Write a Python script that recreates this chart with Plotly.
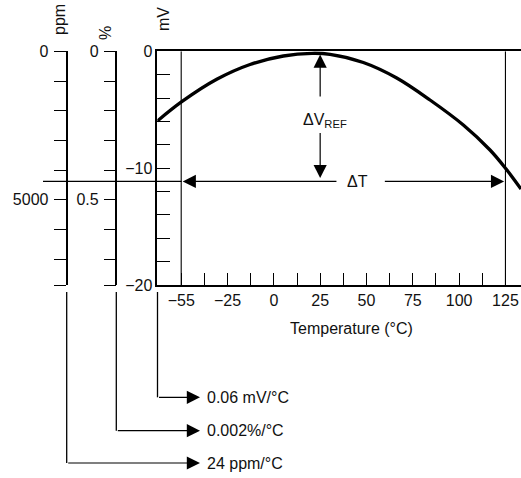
import plotly.graph_objects as go

W, H = 521, 478

# ---- data ----
temp_c = [-62.87, -49.70, -30.82, -12.85, 5.13, 20.61, 30.33, 48.30, 66.32, 84.29, 102.27, 116.68, 125.15, 133.41]
vref_mv = [-5.965, -4.313, -2.396, -1.130, -0.402, -0.171, -0.257, -0.958, -2.285, -4.168, -6.307, -8.447, -10.03, -11.784]

x_tick_vals = [-50, -37.5, -25, -12.5, 0, 12.5, 25, 37.5, 50, 62.5, 75, 87.5, 100, 112.5, 125]
x_tick_text = ["\u221255", "", "\u221225", "", "0", "", "25", "", "50", "", "75", "", "100", "", "125"]

mv_tick_vals = [0, -2, -4, -6, -8, -10, -12, -14, -16, -18, -20]
mv_tick_text = ["0", "", "", "", "", "\u221210", "", "", "", "", "\u221220"]

ppm_range_max = 7866
ppm_tick_vals = [0, 1000, 2000, 3000, 4000, 5000, 6000, 7000, 7866]
ppm_tick_text = ["0", "", "", "", "", "5000", "", "", ""]

pct_range_max = 0.7866
pct_tick_vals = [0, 0.1, 0.2, 0.3, 0.4, 0.5, 0.6, 0.7, 0.7866]
pct_tick_text = ["0", "", "", "", "", "0.5", "", "", ""]

x_range = [-62.9, 133.4]
t_low_line = -50      # position of the line labelled -55
t_high_line = 125
v_min_line = -11.14   # level of the delta-T line
dvref_x = 25

coef_labels = ["0.06 mV/\u00b0C", "0.002%/\u00b0C", "24 ppm/\u00b0C"]

# ---- geometry helpers (pixel -> paper) ----
def px(x):
    return x / W

def py(y):
    return 1 - y / H

FONT = "Liberation Sans"
FS = 16
INK = "#111111"

fig = go.Figure()
fig.add_trace(go.Scatter(x=temp_c, y=vref_mv, mode="lines", line=dict(color="black", width=3.3, shape="spline"),
                         hoverinfo="skip", showlegend=False))
fig.add_trace(go.Scatter(x=[None], y=[None], yaxis="y2", showlegend=False, hoverinfo="skip"))
fig.add_trace(go.Scatter(x=[None], y=[None], yaxis="y3", showlegend=False, hoverinfo="skip"))

ax_common = dict(showgrid=False, zeroline=False, showline=True, linecolor="black", linewidth=1.5,
                 tickcolor="black", tickwidth=1.2, automargin=False, fixedrange=True,
                 tickfont=dict(family=FONT, size=FS, color=INK))

x_left = 157.3
fig.update_layout(
    width=W, height=H, margin=dict(l=0, r=0, t=0, b=0, pad=0),
    paper_bgcolor="white", plot_bgcolor="white",
    font=dict(family=FONT, size=FS, color=INK),
    xaxis=dict(range=x_range, domain=[px(x_left), 1], anchor="y", mirror=True,
               ticks="inside", ticklen=12, tickvals=x_tick_vals, ticktext=x_tick_text, **ax_common),
    yaxis=dict(range=[-20, 0], domain=[py(285), py(51.3)], anchor="x",
               ticks="inside", ticklen=12.5, tickvals=mv_tick_vals, ticktext=mv_tick_text, **ax_common),
    yaxis2=dict(range=[ppm_range_max, 0], overlaying="y", anchor="free", position=px(66.7), side="left",
                ticks="outside", ticklen=12.3, tickvals=ppm_tick_vals, ticktext=ppm_tick_text,
                ticklabelstandoff=2, **ax_common),
    yaxis3=dict(range=[pct_range_max, 0], overlaying="y", anchor="free", position=px(116.3), side="left",
                ticks="outside", ticklen=11.7, tickvals=pct_tick_vals, ticktext=pct_tick_text,
                ticklabelstandoff=2, **ax_common),
)

shapes = []
# vertical limit lines
for t in (t_low_line, t_high_line):
    shapes.append(dict(type="line", xref="x", yref="y", x0=t, x1=t, y0=-20, y1=0,
                       line=dict(color="black", width=1.1)))
# horizontal line from outside axes to the -55 line
shapes.append(dict(type="line", xref="paper", yref="y", x0=px(43), x1=px(181.7), y0=v_min_line, y1=v_min_line,
                   line=dict(color="black", width=1.3)))
# leader verticals
leader_x = [157.5, 116.3, 66.7]
leader_y = [397.3, 430.7, 463.0]
for lx, ly in zip(leader_x, leader_y):
    shapes.append(dict(type="line", xref="paper", yref="paper", x0=px(lx), x1=px(lx), y0=py(292), y1=py(ly),
                       line=dict(color="black", width=1.3)))
fig.update_layout(shapes=shapes)

ann = []
# axis titles
for txt, x, y in (("ppm", 59, 20), ("%", 105, 33), ("mV", 163, 19)):
    ann.append(dict(text=txt, xref="paper", yref="paper", x=px(x), y=py(y), textangle=-90,
                    showarrow=False, xanchor="center", yanchor="middle", font=dict(size=FS)))
ann.append(dict(text="Temperature (\u00b0C)", xref="paper", yref="paper", x=px(351), y=py(328),
                showarrow=False, xanchor="center", yanchor="middle"))
# delta V ref label and arrows
ann.append(dict(text="\u0394V<sub>REF</sub>", xref="x", yref="y", x=27.6, y=-5.9, showarrow=False,
                xanchor="center", yanchor="middle"))
arrow_style = dict(showarrow=True, arrowhead=2, arrowsize=2.2, arrowwidth=1.2, arrowcolor="black", text="",
                   standoff=0)
ann.append(dict(x=dvref_x, y=-0.28, ax=dvref_x, ay=-4.0, xref="x", yref="y", axref="x", ayref="y", **arrow_style))
ann.append(dict(x=dvref_x, y=-10.85, ax=dvref_x, ay=-6.86, xref="x", yref="y", axref="x", ayref="y", **arrow_style))
# delta T label and arrows
ann.append(dict(text="\u0394T", xref="x", yref="y", x=45.2, y=v_min_line, showarrow=False,
                xanchor="center", yanchor="middle"))
ann.append(dict(x=-49.2, y=v_min_line, ax=34.6, ay=v_min_line, xref="x", yref="y", axref="x", ayref="y", **arrow_style))
ann.append(dict(x=124.3, y=v_min_line, ax=59.1, ay=v_min_line, xref="x", yref="y", axref="x", ayref="y", **arrow_style))
# leader arrows and labels
for lx, ly, lab in zip(leader_x, leader_y, coef_labels):
    ann.append(dict(x=px(200), y=py(ly), xref="paper", yref="paper", axref="pixel", ayref="pixel",
                    ax=-(200 - lx), ay=0, **arrow_style))
    ann.append(dict(text=lab, xref="paper", yref="paper", x=px(205), y=py(ly), showarrow=False,
                    xanchor="left", yanchor="middle"))
fig.update_layout(annotations=ann)

fig.write_html("out.html", config={"displayModeBar": False},
               post_script="document.body.style.margin='0';document.body.style.padding='0';")
